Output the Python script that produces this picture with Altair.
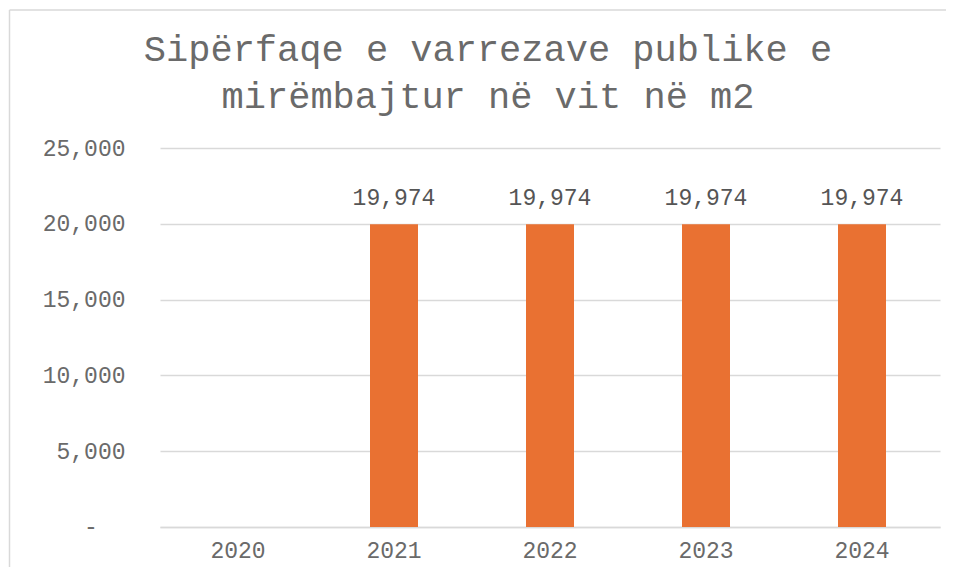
import altair as alt
import pandas as pd

years = ["2020", "2021", "2022", "2023", "2024"]
values = [None, 19974, 19974, 19974, 19974]
y_ticks = [0, 5000, 10000, 15000, 20000, 25000]
zero_label = "-"
title_lines = ["Sipërfaqe e varrezave publike e", "mirëmbajtur në vit në m2"]

df = pd.DataFrame({"year": years, "value": values})

FONT = "Liberation Mono"
GRID = "#d9d9d9"
TXT = "#6a6a6a"

x_enc = alt.X(
    "year:N",
    scale=alt.Scale(domain=years, paddingInner=0, paddingOuter=0),
    axis=alt.Axis(
        title=None,
        labelAngle=0,
        labelFont=FONT,
        labelFontSize=23,
        labelColor=TXT,
        labelPadding=12,
        ticks=False,
        domain=True,
        domainColor=GRID,
        domainWidth=1.5,
        grid=False,
    ),
)
y_enc = alt.Y(
    "value:Q",
    scale=alt.Scale(domain=[0, 25000], nice=False),
    axis=alt.Axis(
        title=None,
        values=y_ticks,
        labelExpr="datum.value == 0 ? '' : format(datum.value, ',')",
        labelFont=FONT,
        labelFontSize=23,
        labelColor=TXT,
        labelPadding=35,
        ticks=False,
        domain=False,
        grid=True,
        gridColor=GRID,
        gridWidth=1.5,
    ),
)

base = alt.Chart(df)
bars = base.mark_bar(color="#E97132", size=48).encode(x=x_enc, y=y_enc)
labels = base.transform_filter("isValid(datum.value)").mark_text(
    font=FONT, fontSize=23, color="#555555", baseline="alphabetic", dy=-19
).encode(x=alt.X("year:N"), y=alt.Y("value:Q"),
         text=alt.Text("value:Q", format=","))

zero_df = pd.DataFrame({"value": [0], "lab": [zero_label]})
zero_mark = alt.Chart(zero_df).mark_text(
    font=FONT, fontSize=23, color=TXT, baseline="middle", align="center"
).encode(x=alt.value(-69), y=alt.Y("value:Q"), text="lab:N")

one = pd.DataFrame({"a": [0]})
title_marks = [
    alt.Chart(one).mark_text(
        font=FONT, fontSize=37, color="#6a6a6a", baseline="middle", align="center"
    ).encode(x=alt.value(328), y=alt.value(ypos), text=alt.value(line))
    for line, ypos in zip(title_lines, [-98, -51])
]

left_border = alt.Chart(one).mark_rule(color=GRID, strokeWidth=1.5).encode(
    x=alt.value(-150.5), y=alt.value(-138), y2=alt.value(600)
)
top_border = alt.Chart(one).mark_rule(color=GRID, strokeWidth=1.5).encode(
    x=alt.value(-150.5), x2=alt.value(900), y=alt.value(-138)
)

chart = (
    alt.layer(left_border, top_border, bars, labels, zero_mark, *title_marks)
    .properties(
        width=780,
        height=379,
        autosize=alt.AutoSizeParams(type="none"),
        padding={"left": 152, "top": 140, "right": 6, "bottom": 40},
    )
    .configure_view(stroke=None)
)

chart.save("out.html", embed_options={"renderer": "svg", "actions": False})
